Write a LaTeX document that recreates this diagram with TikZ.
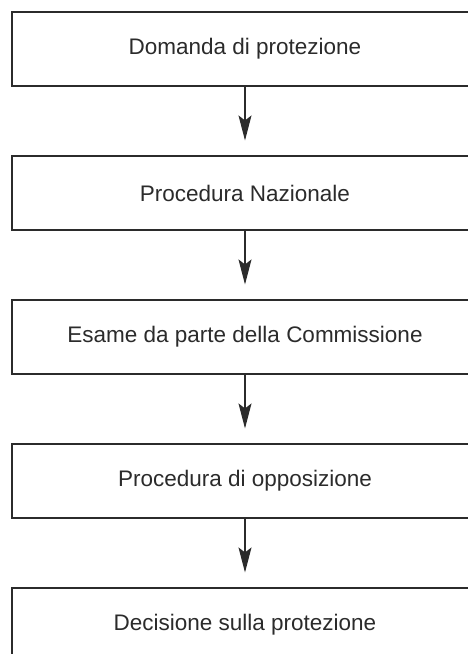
\documentclass[tikz,border=0pt]{standalone}
\usepackage{fontspec}
\setmainfont{Liberation Sans}
\usetikzlibrary{arrows.meta}
\definecolor{inkgray}{HTML}{2B2B2B}
\begin{document}
\begin{tikzpicture}[
  stagebox/.style={draw=inkgray, line width=1.1pt, minimum width=466pt, minimum height=74pt,
    inner sep=0pt, text=inkgray, font=\fontsize{22.5pt}{27pt}\selectfont},
  flowarrow/.style={draw=inkgray, line width=1.1pt, shorten >=15pt,
    -{Stealth[length=25pt, width=13pt, inset=5pt]}}]
\useasboundingbox (0pt, 0pt) rectangle (468pt, -654pt);
\clip (0pt, 0pt) rectangle (468pt, -654pt);
\node[stagebox] (domanda) at (245pt, -49pt) {Domanda di protezione};
\node[stagebox] (nazionale) at (245pt, -193pt) {Procedura Nazionale};
\node[stagebox] (esame) at (245pt, -337pt) {Esame da parte della Commissione};
\node[stagebox] (opposizione) at (245pt, -481pt) {Procedura di opposizione};
\node[stagebox] (decisione) at (245pt, -625pt) {Decisione sulla protezione};
\draw[flowarrow] (domanda) -- (nazionale);
\draw[flowarrow] (nazionale) -- (esame);
\draw[flowarrow] (esame) -- (opposizione);
\draw[flowarrow] (opposizione) -- (decisione);
\end{tikzpicture}
\end{document}
